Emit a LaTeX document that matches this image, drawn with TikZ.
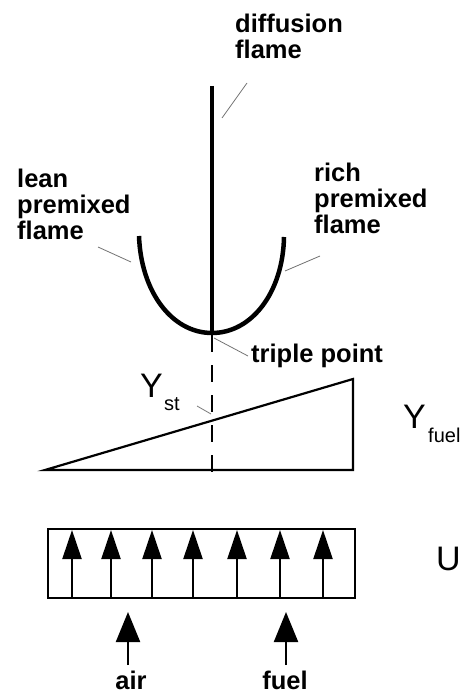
\documentclass[tikz,border=0pt]{standalone}
\usepackage{fontspec}
\setmainfont{Liberation Sans}
\usetikzlibrary{arrows.meta}
\tikzset{
  lbl/.style={font=\bfseries\fontsize{25.5}{26}\selectfont, inner sep=0pt, align=left, anchor=north west},
  sym/.style={font=\fontsize{34}{34}\selectfont, inner sep=0pt, anchor=base west},
  sub/.style={font=\fontsize{20}{20}\selectfont, inner sep=0pt, anchor=base west},
  flame/.style={line width=4.5pt},
  leader/.style={line width=0.8pt, black!55},
  flow/.style={line width=2.2pt, -{Triangle[length=29pt,width=19pt]}},
  feed/.style={line width=2.2pt, -{Triangle[length=30pt,width=24pt]}},
}
\begin{document}
\begin{tikzpicture}[x=1pt,y=-1pt]
\useasboundingbox (0,0) rectangle (471,692);
\clip (0,0) rectangle (471,692);
% flames
\coordinate (tp) at (212,333);
\coordinate (fl) at (139,236);
\coordinate (fr) at (284,237);
\draw[flame] (212,86) -- (tp);
\draw[flame] (fl) .. controls (141,292) and (172,333) .. (tp)
                 .. controls (252,333) and (283,292) .. (fr);
% dashed line
\draw[line width=2pt, dash pattern=on 17pt off 13pt, dash phase=-2pt] (tp) -- (212,482);
% labels
\node[lbl] (diff) at (235,14) {diffusion\\flame};
\node[lbl] (lean) at (17,169) {lean\\premixed\\flame};
\node[lbl] (rich) at (314,163) {rich\\premixed\\flame};
\node[lbl] (trip) at (251,344) {triple point};
% leaders
\coordinate (d1) at (247,83); \coordinate (d2) at (222,118);
\draw[leader] (d1) -- (d2);
\coordinate (l1) at (98,247); \coordinate (l2) at (131,262);
\draw[leader] (l1) -- (l2);
\coordinate (r1) at (320,256); \coordinate (r2) at (285,271);
\draw[leader] (r1) -- (r2);
\coordinate (t1) at (214,338); \coordinate (t2) at (248,356);
\draw[leader] (t1) -- (t2);
% Y profile
\coordinate (a) at (45,470); \coordinate (b) at (353,470); \coordinate (c) at (353,379);
\draw[line width=2.2pt, line join=miter] (a) -- (c) -- (b) -- cycle;
\node[sym] (Yst) at (140,397) {Y};
\node[sub] (st) at (164,410) {st};
\coordinate (s1) at (197,406); \coordinate (s2) at (211,414);
\draw[leader] (s1) -- (s2);
\node[sym] (Yf) at (403,428) {Y};
\node[sub] (fuel) at (428,442) {fuel};
% velocity profile
\draw[line width=2pt] (48,529) rectangle (355,598);
\foreach \x/\n in {72/1,111/2,152/3,193/4,237/5,280/6,323/7}{
  \coordinate (u\n b) at (\x,598); \coordinate (u\n t) at (\x,530);
  \draw[flow] (u\n b) -- (u\n t);
}
\node[sym] (U) at (436,570) {U};
% feeds
\node[font=\bfseries\fontsize{25.5}{26}\selectfont, inner sep=0pt, anchor=base] (air) at (131,689) {air};
\node[font=\bfseries\fontsize{25.5}{26}\selectfont, inner sep=0pt, anchor=base] (fuelin) at (285,689) {fuel};
\coordinate (ab) at (128,665); \coordinate (fb) at (286,665);
\draw[feed] (ab) -- (128,612);
\draw[feed] (fb) -- (286,612);
\end{tikzpicture}
\end{document}
